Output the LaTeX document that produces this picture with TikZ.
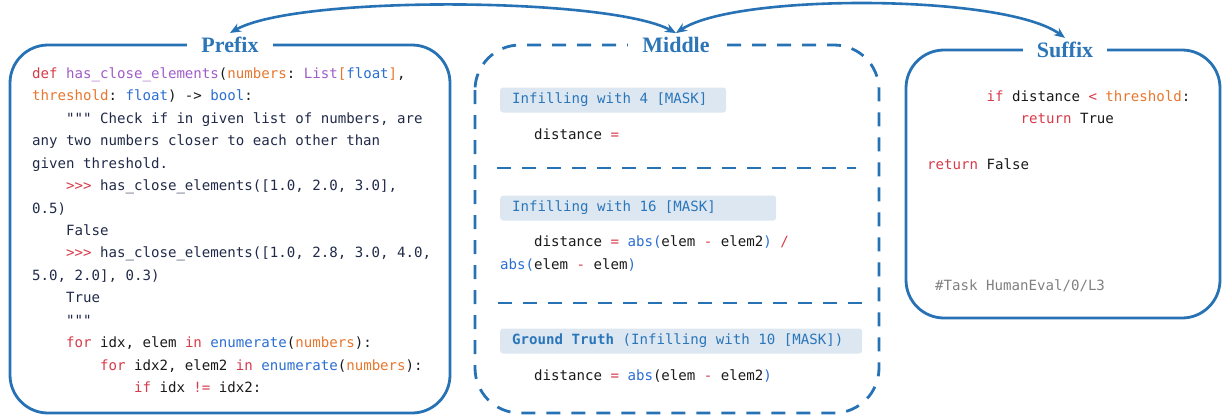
\documentclass[tikz,border=0pt]{standalone}
\usepackage{fontspec}
\setmonofont{DejaVu Sans Mono}
\newfontfamily\titlefont{Liberation Serif}
\usetikzlibrary{arrows.meta}
\definecolor{fimblue}{RGB}{38,114,180}
\definecolor{titleblue}{RGB}{44,117,182}
\definecolor{tagfill}{RGB}{221,231,241}
\definecolor{tagtext}{RGB}{42,118,186}
\definecolor{kwdred}{RGB}{215,58,73}
\definecolor{fnmpurple}{RGB}{160,92,200}
\definecolor{prmorange}{RGB}{232,118,45}
\definecolor{bltnblue}{RGB}{42,110,210}
\definecolor{docnavy}{RGB}{32,42,72}
\definecolor{codeblack}{RGB}{25,25,25}
\definecolor{cmtgray}{RGB}{128,128,128}
\newcommand{\codefont}{\ttfamily\fontsize{14.1}{22.4}\selectfont\frenchspacing}
\newcommand{\ind}[1]{\hspace*{#1\fontcharwd\font`x}} % indent by #1 characters
\newcommand{\kwd}[1]{\textcolor{kwdred}{#1}}
\newcommand{\fnm}[1]{\textcolor{fnmpurple}{#1}}
\newcommand{\prm}[1]{\textcolor{prmorange}{#1}}
\newcommand{\bltn}[1]{\textcolor{bltnblue}{#1}}
\newcommand{\dstr}[1]{\textcolor{docnavy}{#1}}
\tikzstyle{frame}=[draw=fimblue, line width=2.8pt, rounded corners=38pt]
\tikzstyle{dashframe}=[frame, dash pattern=on 14pt off 11pt, rounded corners=45pt]
\tikzstyle{sepline}=[draw=fimblue, line width=2.8pt, dash pattern=on 14pt off 11pt]
\tikzstyle{boxtitle}=[fill=white, text=titleblue, font=\titlefont\bfseries\fontsize{22}{22}\selectfont, inner xsep=14pt, inner ysep=4pt]
\tikzstyle{tagbox}=[fill=tagfill, rounded corners=3pt, anchor=west, align=left, inner xsep=12pt, inner ysep=0pt, minimum height=25pt, text=tagtext, font=\codefont, text height=10pt, text depth=3pt, execute at begin node={\spaceskip=0pt\xspaceskip=0pt}]
\tikzstyle{codeline}=[anchor=west, inner sep=0pt, font=\codefont, text=codeblack, text height=10pt, text depth=3pt]
\tikzstyle{link}=[draw=fimblue, line width=2.6pt, {Stealth[length=11pt,width=9pt]}-{Stealth[length=11pt,width=9pt]}]

\begin{document}
\begin{tikzpicture}[x=1pt,y=-1pt]
\useasboundingbox (0,0) rectangle (1222,416);
% frames
\draw[frame] (10,45) rectangle (450,413);
\draw[dashframe] (475,45) rectangle (879,413);
\draw[frame] (906,50) rectangle (1220,318);
\node[boxtitle] (pretitle) at (230,45) {Prefix};
\node[boxtitle] (midtitle) at (676,45) {Middle};
\node[boxtitle] (suftitle) at (1065,50) {Suffix};
\draw[link] (pretitle.north) .. controls +(67,-38) and +(-67,-36) .. (midtitle.north);
\draw[link] (midtitle.north) .. controls +(60,-40) and +(-60,-44) .. (suftitle.north);

% prefix code
\foreach \codeln [count=\i] in {
  {\kwd{def} \fnm{has\_close\_elements}(\prm{numbers}: \fnm{List}\prm{[}\bltn{float}\prm{]},},
  {\prm{threshold}: \bltn{float}) -> \bltn{bool}:},
  {\ind{4}\dstr{"{}"{}" Check if in given list of numbers, are}},
  {\dstr{any two numbers closer to each other than}},
  {\dstr{given threshold.}},
  {\ind{4}\kwd{>{}>{}>} \dstr{has\_close\_elements([1.0, 2.0, 3.0],}},
  {\dstr{0.5)}},
  {\ind{4}\dstr{False}},
  {\ind{4}\kwd{>{}>{}>} \dstr{has\_close\_elements([1.0, 2.8, 3.0, 4.0,}},
  {\dstr{5.0, 2.0], 0.3)}},
  {\ind{4}\dstr{True}},
  {\ind{4}\dstr{"{}"{}"}},
  {\ind{4}\kwd{for} idx, elem \kwd{in} \bltn{enumerate}(\prm{numbers}):},
  {\ind{8}\kwd{for} idx2, elem2 \kwd{in} \bltn{enumerate}(\prm{numbers}):},
  {\ind{12}\kwd{if} idx \kwd{!=} idx2:}}
  \node[codeline] (pre\i) at (32,{75+22.43*(\i-1)}) {\codeln};

% middle
\node[tagbox, text width=202pt] (tagfour) at (500,100) {Infilling with 4 [MASK]};
\node[codeline] (midfour) at (500,136) {\ind{4}distance \kwd{=}};
\draw[sepline] (497,168) -- (856,168);
\node[tagbox, text width=252pt] (tagsixteen) at (500,208) {Infilling with 16 [MASK]};
\node[codeline] (midsixteen) at (500,243) {\ind{4}distance \kwd{=} \bltn{abs(}elem \kwd{-} elem2\bltn{)} \kwd{/}};
\node[codeline] (midsixteenb) at (500,266) {\bltn{abs(}elem \kwd{-} elem\bltn{)}};
\draw[sepline] (498,303) -- (862,303);
\node[tagbox, text width=338pt] (tagtruth) at (500,341) {\textbf{Ground Truth} (Infilling with 10 [MASK])};
\node[codeline] (midtruth) at (500,377) {\ind{4}distance \kwd{=} \bltn{abs}(elem \kwd{-} elem2\bltn{)}};

% suffix code
\node[codeline] (sufif) at (927,98) {\ind{7}\kwd{if} distance \kwd{<} \prm{threshold}:};
\node[codeline] (sufret) at (927,120) {\ind{11}\kwd{return} True};
\node[codeline] (suffalse) at (927,166) {\kwd{return} False};
\node[codeline, text=cmtgray] (suftask) at (935,287) {\#Task HumanEval/0/L3};
\end{tikzpicture}
\end{document}
